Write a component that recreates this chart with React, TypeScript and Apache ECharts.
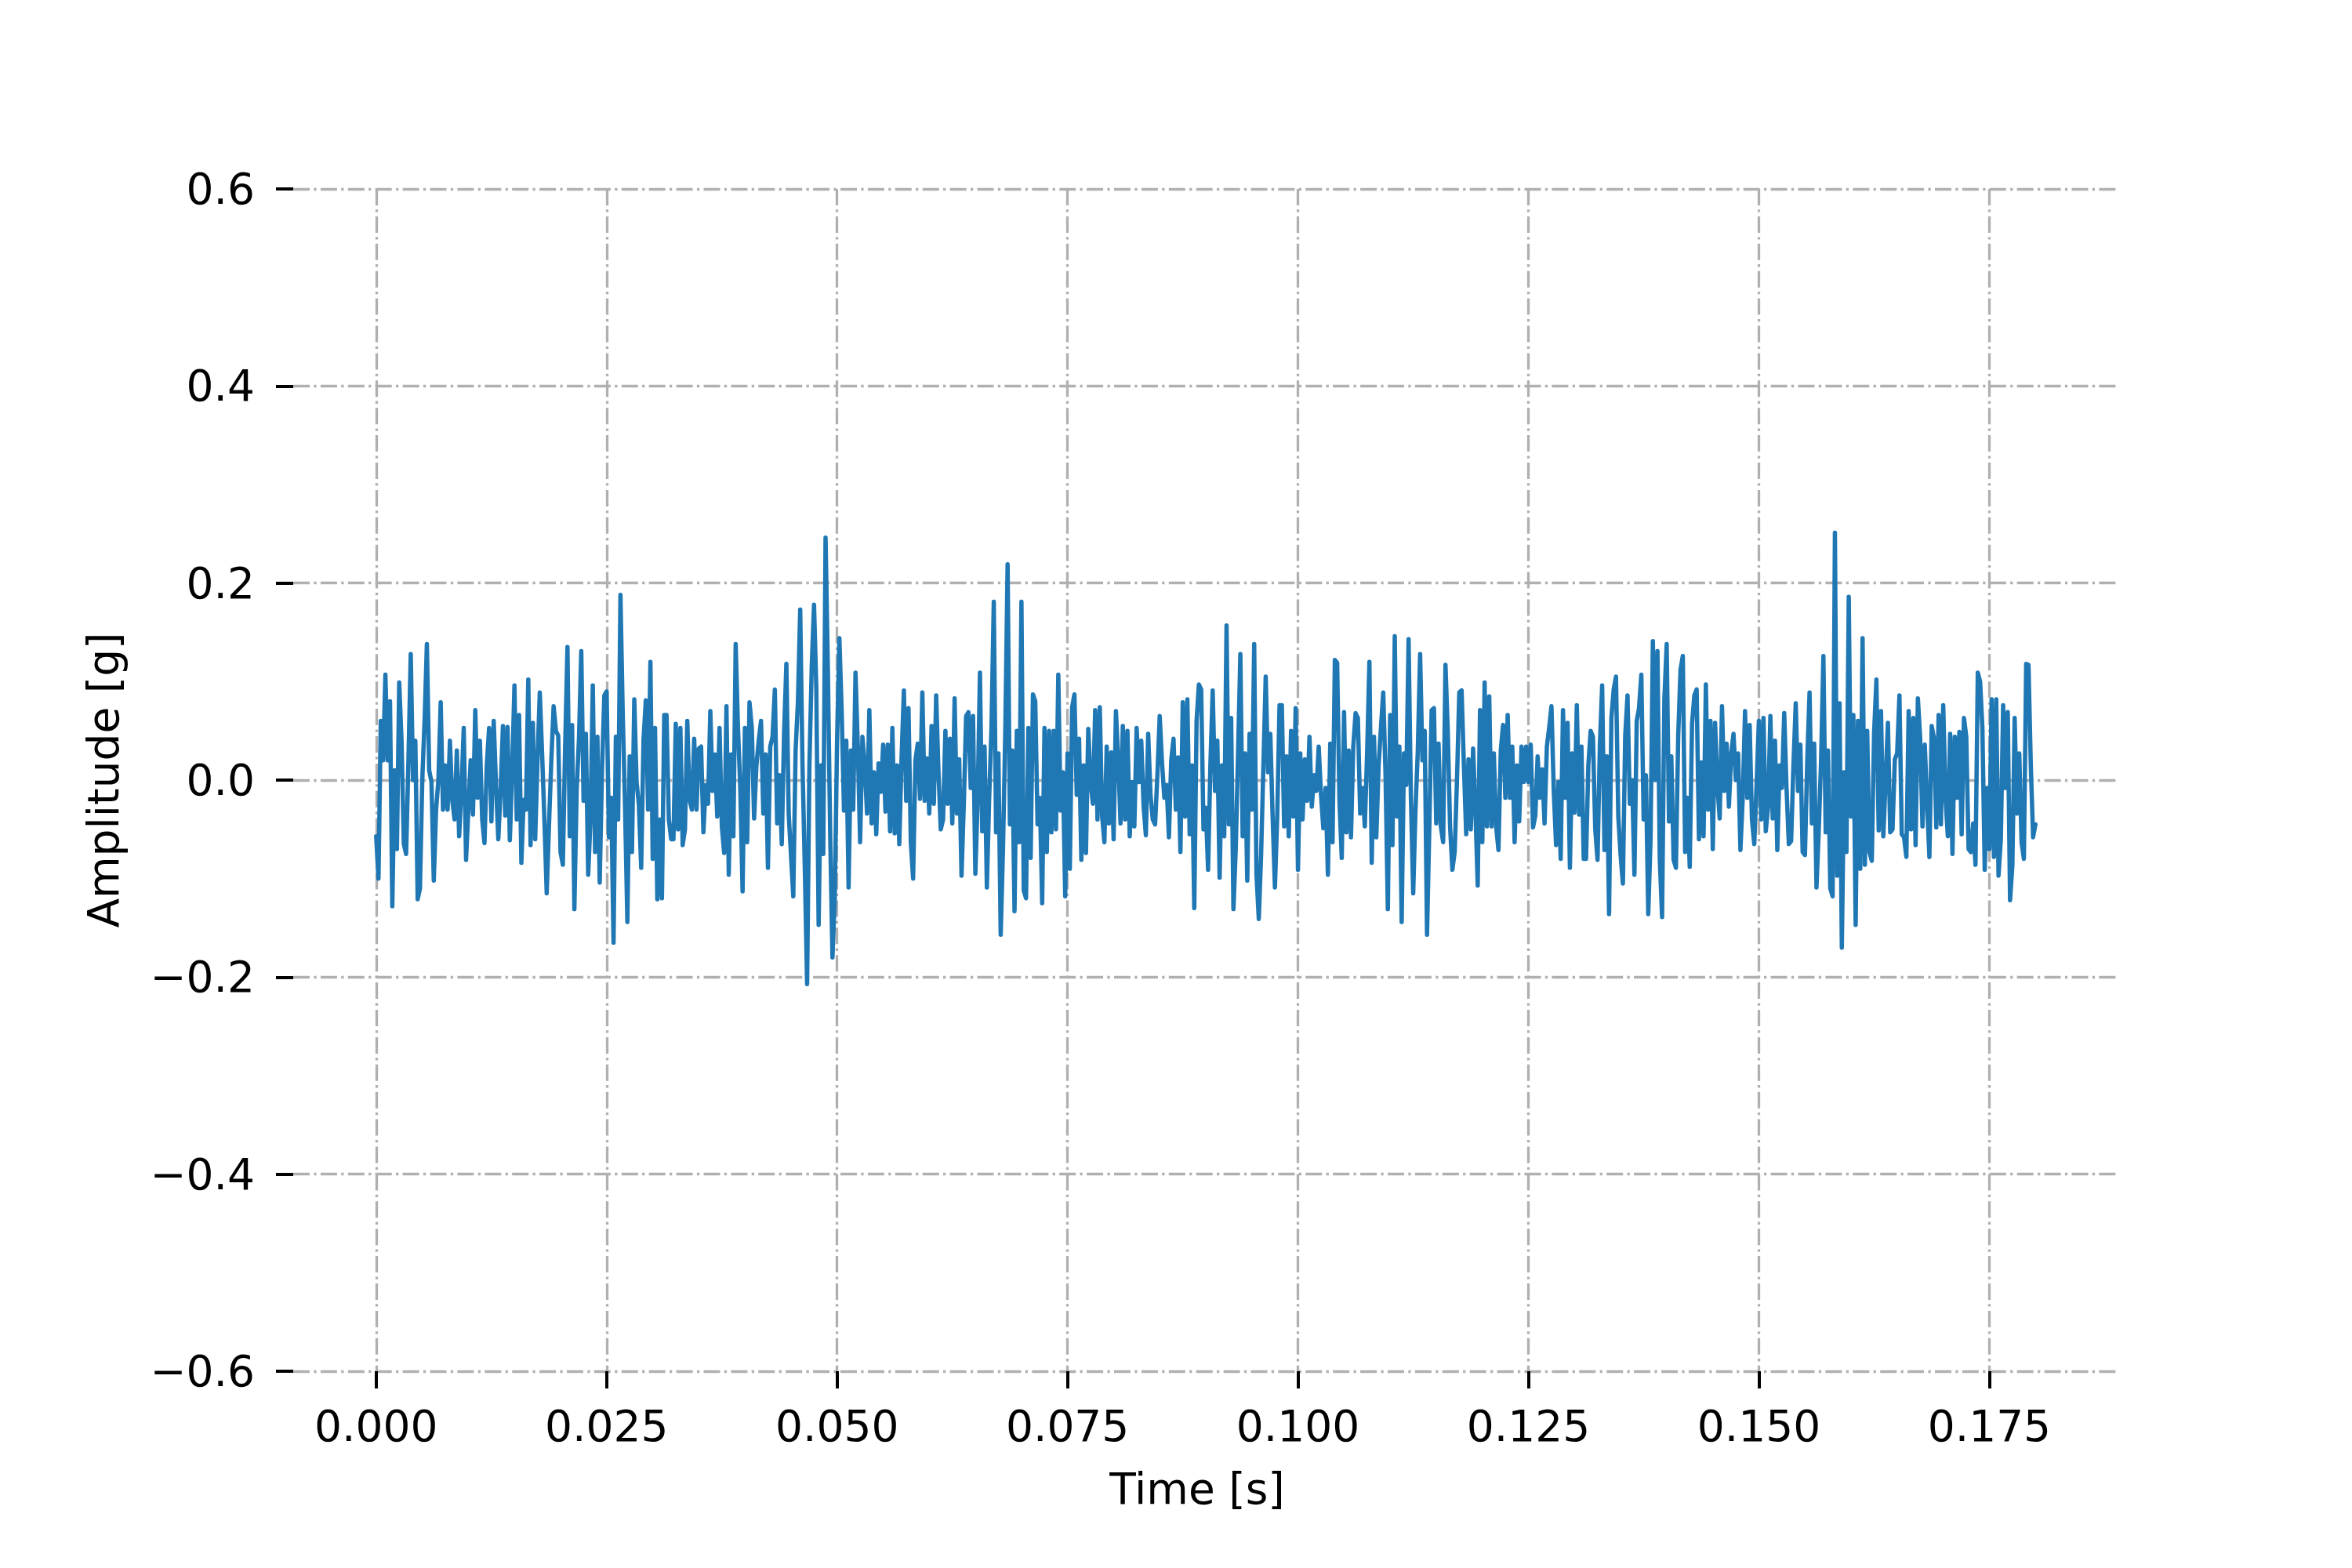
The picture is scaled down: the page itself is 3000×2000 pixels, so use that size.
import React, { useEffect, useRef } from "react";
import * as echarts from "echarts";

// sample spacing of the recorded signal [s]
const DT = 0.00025;

// Amplitude [g], in consecutive time windows
const seg0 = [-0.057, -0.1, 0.06, 0.02, 0.107, 0.02, 0.08, -0.128, 0.01, -0.07, 0.099, 0.04, -0.065, -0.075, 0.02, 0.128, 0.0, 0.04, -0.121, -0.11, 0.0, 0.06, 0.138, 0.01, -0.002, -0.102, -0.03, 0.0, 0.079, -0.03, 0.015, -0.03, 0.04, -0.02, -0.04, 0.03, -0.057, -0.01, 0.053, -0.081, -0.03, 0.02, -0.035, 0.071, -0.018, 0.04, -0.04, -0.064, 0.015, 0.053, -0.042, 0.06, -0.005, -0.06, -0.01, 0.055, -0.036, 0.054, -0.061, 0.008, 0.096, -0.04, 0.066];
const seg1 = [-0.084, -0.02, -0.03, 0.102, -0.066, 0.058, -0.06, 0.02, 0.089, 0.027, -0.04, -0.115, -0.045, 0.02, 0.075, 0.05, 0.045, -0.073, -0.086, 0.034, 0.135, -0.057, 0.056, -0.131, -0.01, 0.042, 0.131, -0.021, 0.047, -0.096, -0.04, 0.096, -0.073, 0.044, -0.104, 0.01, 0.086, 0.09, -0.058, -0.018, -0.165, 0.044, -0.04, 0.188, 0.066, -0.027, -0.144, 0.024, -0.073, 0.082, -0.002, -0.025, -0.089, 0.04, 0.081, -0.03, 0.12, -0.08, 0.053, -0.121, -0.04, -0.12, 0.066, 0.066, -0.04, -0.06];
const seg2 = [-0.06, 0.057, -0.05, 0.053, -0.066, -0.05, 0.06, -0.02, -0.03, 0.042, -0.03, 0.032, 0.034, -0.053, -0.005, -0.024, 0.07, -0.011, 0.026, -0.037, 0.053, -0.047, -0.074, 0.075, -0.096, 0.026, -0.057, 0.138, 0.053, -0.008, -0.113, 0.053, -0.063, 0.079, 0.053, -0.039, 0.015, 0.04, 0.06, -0.034, 0.026, -0.089, 0.034, 0.044, 0.092, -0.044, 0.005, -0.065, 0.047, 0.118, -0.034, -0.076, -0.118, 0.03, 0.079, 0.173, 0.015, -0.089, -0.207, 0.015, 0.115, 0.178, 0.092, -0.147, 0.015, -0.075];
const seg3 = [0.246, 0.113, -0.053, -0.18, -0.12, 0.04, 0.144, 0.07, -0.031, 0.04, -0.109, 0.03, -0.03, 0.109, 0.034, -0.063, 0.044, 0.015, -0.034, 0.071, -0.044, 0.008, -0.055, 0.017, -0.012, 0.036, -0.032, 0.036, -0.052, 0.053, -0.054, 0.015, -0.065, 0.024, 0.091, -0.021, 0.073, -0.063, -0.1, 0.02, 0.037, -0.019, 0.089, -0.021, 0.022, -0.034, 0.055, -0.024, 0.086, 0.008, -0.05, -0.04, 0.05, -0.024, 0.042, -0.044, 0.083, -0.034, 0.021, -0.097, -0.024, 0.065, 0.069, -0.008, 0.065, -0.095];
const seg4 = [-0.02, 0.109, -0.052, 0.034, -0.109, -0.018, 0.053, 0.181, -0.053, 0.027, -0.157, -0.07, 0.05, 0.219, -0.045, 0.03, -0.133, 0.05, -0.063, 0.181, -0.112, -0.12, 0.053, -0.079, 0.087, 0.08, -0.045, -0.018, -0.125, 0.053, -0.073, 0.05, -0.053, 0.05, -0.05, 0.107, -0.031, 0.008, -0.118, 0.027, -0.09, 0.074, 0.087, -0.015, 0.042, -0.081, 0.015, -0.074, 0.052, -0.002, -0.024, 0.071, -0.04, 0.074, -0.036, -0.063, 0.034, -0.044, 0.028, -0.06, 0.07, 0.021, -0.044, 0.055, -0.04, 0.05];
const seg5 = [-0.057, -0.002, -0.047, 0.053, -0.002, 0.04, -0.026, -0.056, 0.047, -0.015, -0.04, -0.045, 0.005, 0.065, 0.018, -0.018, -0.005, -0.058, 0.02, 0.042, -0.03, 0.023, -0.073, 0.079, -0.037, 0.082, -0.055, 0.015, -0.13, 0.06, 0.097, 0.092, -0.05, -0.028, -0.091, 0.016, 0.091, -0.011, 0.04, -0.099, 0.015, -0.057, 0.157, -0.045, 0.063, -0.131, -0.07, 0.027, 0.128, -0.057, 0.027, -0.102, 0.047, -0.03, 0.138, -0.096, -0.141, -0.076, 0.015, 0.105, 0.008, 0.047, -0.037, -0.109, -0.037, 0.076];
const seg6 = [0.076, -0.047, 0.024, -0.057, 0.05, -0.037, 0.073, -0.091, 0.027, -0.04, 0.021, -0.021, 0.044, -0.027, 0.005, -0.011, 0.034, -0.015, -0.049, -0.008, -0.096, 0.037, -0.063, 0.122, 0.119, -0.021, -0.079, 0.069, -0.053, 0.03, -0.058, 0.034, 0.068, 0.063, -0.034, -0.008, -0.047, 0.027, 0.12, -0.084, 0.044, -0.058, 0.015, 0.053, 0.089, 0.005, -0.131, 0.066, -0.066, 0.146, -0.037, 0.034, -0.144, 0.027, -0.005, 0.143, -0.017, -0.115, -0.03, 0.03, 0.128, 0.02, 0.05, -0.157, -0.048, 0.071];
const seg7 = [0.073, -0.044, 0.037, -0.047, -0.063, 0.117, 0.05, -0.047, -0.091, -0.073, 0.0, 0.089, 0.091, 0.015, -0.055, 0.021, -0.05, 0.032, -0.03, -0.107, 0.071, -0.063, 0.099, -0.047, 0.085, -0.047, 0.027, -0.047, -0.071, 0.03, 0.056, -0.018, 0.066, -0.018, 0.034, -0.063, 0.015, -0.042, 0.034, -0.002, 0.034, -0.002, 0.036, -0.048, -0.036, 0.024, -0.018, 0.011, -0.044, 0.034, 0.053, 0.075, -0.011, -0.066, -0.002, -0.08, 0.071, -0.018, 0.058, -0.089, 0.027, -0.033, 0.076, -0.035, 0.034, -0.08];
const seg8 = [-0.08, 0.015, 0.05, 0.044, -0.05, -0.081, 0.035, 0.096, -0.071, 0.024, -0.136, 0.063, 0.092, 0.105, -0.037, -0.076, -0.105, 0.045, 0.086, -0.024, 0.0, -0.096, 0.06, 0.073, 0.107, -0.04, 0.005, -0.136, -0.06, 0.141, 0.0, 0.131, -0.08, -0.139, 0.083, 0.138, -0.042, 0.024, -0.081, -0.089, 0.045, 0.112, 0.126, -0.073, -0.018, -0.088, 0.057, 0.086, 0.092, -0.06, 0.018, -0.057, 0.097, -0.03, 0.06, -0.07, 0.058, -0.005, -0.039, 0.075, -0.011, 0.037, -0.027, 0.027, 0.047, 0.0];
const seg9 = [0.027, -0.071, -0.018, 0.07, -0.018, 0.056, -0.04, -0.065, -0.005, 0.06, -0.04, 0.063, -0.052, -0.027, 0.065, -0.039, 0.04, -0.071, 0.015, -0.008, 0.068, -0.008, -0.065, -0.062, 0.015, 0.078, -0.011, 0.036, -0.073, -0.076, 0.02, 0.089, -0.044, 0.037, -0.109, -0.05, 0.02, 0.126, -0.053, 0.03, -0.11, -0.118, 0.251, -0.097, 0.078, -0.17, 0.008, -0.073, 0.186, -0.037, 0.066, -0.147, 0.06, -0.09, 0.144, -0.086, 0.05, -0.073, -0.082, 0.048, 0.102, -0.051, 0.07, -0.057, 0.0, 0.058];
const seg10 = [-0.053, -0.05, 0.021, 0.027, 0.086, -0.055, -0.058, -0.078, 0.07, -0.05, 0.063, -0.066, 0.083, 0.042, -0.047, 0.036, -0.024, -0.078, 0.055, 0.042, -0.048, 0.066, -0.045, 0.076, -0.018, -0.057, 0.047, -0.075, 0.044, -0.018, 0.049, -0.055, 0.063, 0.044, -0.07, -0.073, -0.044, -0.086, 0.109, 0.1, 0.053, -0.091, -0.008, -0.07, 0.082, -0.078, 0.082, -0.097, -0.06, 0.076, -0.008, 0.069, -0.122, -0.087, 0.063, -0.034, 0.027, -0.063, -0.08, 0.118, 0.117, 0.015, -0.058, -0.045];

const amplitude = [...seg0, ...seg1, ...seg2, ...seg3, ...seg4, ...seg5, ...seg6, ...seg7, ...seg8, ...seg9, ...seg10];

const xTicks = [0, 0.025, 0.05, 0.075, 0.1, 0.125, 0.15, 0.175];
const yTicks = [-0.6, -0.4, -0.2, 0, 0.2, 0.4, 0.6];

const FONT = "DejaVu Sans";
const gridLine = { color: "#b0b0b0", width: 3.3, type: [21, 5.3, 3.3, 5.3] as number[] };

export default function App() {
  const ref = useRef<HTMLDivElement>(null);
  useEffect(() => {
    if (!ref.current) return;
    const chart = echarts.init(ref.current, null, { renderer: "svg" });
    const data = amplitude.map((v, i) => [i * DT, v]);
    const fmtY = (v: number) => {
      if (Math.abs(v) < 1e-9) return "0.0";
      return v < 0 ? "\u2212" + Math.abs(v).toFixed(1) : v.toFixed(1);
    };
    chart.setOption({
      animation: false,
      backgroundColor: "#ffffff",
      grid: { left: 374, right: 298, top: 241, bottom: 251, containLabel: false },
      xAxis: {
        type: "value",
        min: -0.009,
        max: 0.189,
        name: "Time [s]",
        nameLocation: "middle",
        nameGap: 122,
        nameTextStyle: { fontFamily: FONT, fontSize: 55, color: "#000", padding: [0, 22, 0, 0] },
        axisLine: { show: false, onZero: false },
        axisTick: { show: true, customValues: xTicks, length: 22, lineStyle: { color: "#000", width: 4 } },
        axisLabel: {
          customValues: xTicks,
          margin: 42,
          fontFamily: FONT,
          fontSize: 55,
          color: "#000",
          formatter: (v: number) => v.toFixed(3),
        },
        splitLine: { show: true, lineStyle: gridLine },
      },
      yAxis: {
        type: "value",
        min: yTicks[0],
        max: yTicks[yTicks.length - 1],
        interval: 0.2,
        name: "Amplitude [g]",
        nameLocation: "middle",
        nameGap: 215,
        nameRotate: 90,
        nameTextStyle: { fontFamily: FONT, fontSize: 55, color: "#000" },
        axisLine: { show: false, onZero: false },
        axisTick: { show: true, length: 22, lineStyle: { color: "#000", width: 4 } },
        axisLabel: {
          margin: 49,
          fontFamily: FONT,
          fontSize: 55,
          color: "#000",
          formatter: fmtY,
        },
        splitLine: { show: true, lineStyle: gridLine },
      },
      series: [
        {
          type: "line",
          data,
          showSymbol: false,
          symbol: "none",
          lineStyle: { color: "#1f77b4", width: 5.5, join: "round", cap: "round" },
          z: 3,
        },
      ],
    });
    return () => chart.dispose();
  }, []);
  return (
    <div
      ref={ref}
      style={{ position: "fixed", left: 0, top: 0, width: 3000, height: 2000, background: "#fff" }}
    />
  );
}
